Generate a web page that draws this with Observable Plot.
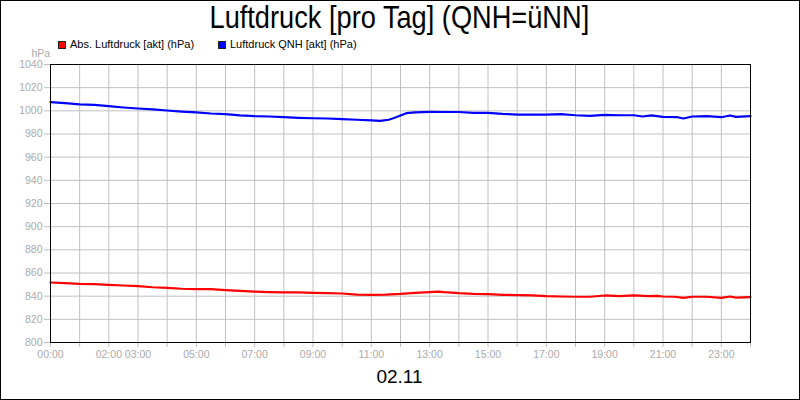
<!DOCTYPE html>
<html>
<head>
<meta charset="utf-8">
<script src="https://cdn.jsdelivr.net/npm/d3@7"></script>
<script src="https://cdn.jsdelivr.net/npm/@observablehq/plot@0.6"></script>
<style>
  html, body { margin: 0; padding: 0; background: #fff; }
  #wrap { position: relative; width: 800px; height: 400px; overflow: hidden; background: #fff; font-family: "Liberation Sans", Arial, sans-serif; }
  #border { position: absolute; left: 0; top: 0; width: 800px; height: 400px; box-sizing: border-box; border: 1px solid #000; pointer-events: none; }
  #title { position: absolute; left: 0; top: 1px; width: 798px; text-align: center; font-size: 32px; line-height: 32px; color: #000; white-space: nowrap; }
  #title span { display: inline-block; transform: scaleX(0.85); transform-origin: center; }
  #caption { position: absolute; left: 0; top: 367px; width: 799px; text-align: center; font-size: 19px; line-height: 19px; color: #000; }
  .leg { position: absolute; top: 39px; font-size: 11px; line-height: 11px; color: #000; white-space: nowrap; }
  .sw { position: absolute; top: 41px; width: 6px; height: 6px; border: 1px solid #222; }
  #chart { position: absolute; left: 0; top: 0; }
</style>
</head>
<body>
<div id="wrap">
  <div id="chart"></div>
  <div id="title"><span>Luftdruck [pro Tag] (QNH=üNN]</span></div>
  <div class="sw" style="left:58px;background:#ff0000"></div>
  <div class="leg" style="left:70px">Abs. Luftdruck [akt] (hPa)</div>
  <div class="sw" style="left:218px;background:#0000ff"></div>
  <div class="leg" style="left:230px">Luftdruck QNH [akt] (hPa)</div>
  <div id="caption">02.11</div>
  <div id="border"></div>
</div>
<script>
// ---- data ----
const seriesNames = ["Abs. Luftdruck [akt] (hPa)", "Luftdruck QNH [akt] (hPa)"];

const absHours = [0,0.5,1,1.5,2,2.5,3,3.5,4,4.5,5,5.5,6,6.5,7,7.5,8,8.5,9,9.5,10,10.5,11,11.5,12,12.5,13,13.3,13.5,14,14.5,15,15.5,16,16.5,17,17.5,18,18.5,19,19.5,20,20.5,20.8,21,21.4,21.7,22,22.5,23,23.3,23.5,24];
const absValues = [851.8,851.2,850.6,850.4,849.8,849.2,848.6,847.7,847.2,846.4,846.0,846.0,845.2,844.6,844.0,843.5,843.2,843.2,842.9,842.6,842.3,841.4,841.2,841.4,842.0,842.9,843.5,844.0,843.5,842.6,842.0,841.7,841.2,840.9,840.6,840.0,839.7,839.5,839.5,840.6,840.0,840.6,840.0,840.3,839.7,839.5,838.6,839.5,839.5,838.6,839.7,838.8,839.2];

const qnhHours = [0,0.5,1,1.5,2,2.5,3,3.5,4,4.5,5,5.5,6,6.5,7,7.5,8,8.5,9,9.5,10,10.5,11,11.3,11.6,11.8,12,12.2,12.5,13,13.5,14,14.5,15,15.5,16,16.5,17,17.5,18,18.5,19,19.5,20,20.3,20.6,21,21.5,21.7,22,22.5,23,23.3,23.5,24];
const qnhValues = [1007.5,1006.6,1005.5,1005.2,1004.0,1002.9,1002.0,1001.2,1000.3,999.4,998.6,997.7,997.1,996.0,995.4,995.1,994.5,994.0,993.6,993.4,992.8,992.3,991.7,991.4,992.3,994.0,996.0,998.0,998.6,999.1,999.0,999.0,998.3,998.3,997.4,996.8,996.8,996.8,997.1,996.2,995.7,996.5,996.2,996.2,995.1,996.0,994.8,994.5,993.4,995.1,995.4,994.5,996.0,994.8,995.4];

const xTickHours = d3.range(0, 25);
const xLabelHours = [0,2,3,5,7,9,11,13,15,17,19,21,23];
const yTicks = d3.range(800, 1041, 20);
const yDomain = [800, 1040];

// ---- build tables ----
const absData = absHours.map((h, i) => ({h, v: absValues[i], s: seriesNames[0]}));
const qnhData = qnhHours.map((h, i) => ({h, v: qnhValues[i], s: seriesNames[1]}));

const fmtHour = h => String(h).padStart(2, "0") + ":00";
const labelGray = "#aaaaaa";
const tickGray = "#bdbdbd";
const gridGray = "#c0c0c0";

const chart = Plot.plot({
  width: 800,
  height: 400,
  marginLeft: 50,
  marginRight: 50,
  marginTop: 64,
  marginBottom: 58,
  style: { fontFamily: "'Liberation Sans', Arial, sans-serif", fontSize: "10.5px", background: "transparent", overflow: "visible" },
  x: { domain: [0, 24] },
  y: { domain: yDomain },
  marks: [
    Plot.gridX(xTickHours, { stroke: gridGray, strokeOpacity: 1 }),
    Plot.gridY(yTicks, { stroke: gridGray, strokeOpacity: 1 }),
    Plot.axisX(xTickHours, {
      tickSize: 5, tickPadding: 3, stroke: tickGray, fill: labelGray, label: null,
      tickFormat: h => xLabelHours.includes(h) ? fmtHour(h) : ""
    }),
    Plot.axisY(yTicks, {
      tickSize: 6, tickPadding: 2, stroke: tickGray, fill: labelGray, label: null,
      tickFormat: d => String(d)
    }),
    Plot.line(absData, { x: "h", y: "v", stroke: "#ff0000", strokeWidth: 2.2 }),
    Plot.line(qnhData, { x: "h", y: "v", stroke: "#0000ff", strokeWidth: 2.2 }),
    Plot.frame({ stroke: "#000" }),
    Plot.text(["hPa"], { text: d => d, frameAnchor: "top-left", dx: -19, dy: -15, textAnchor: "start", fill: labelGray })
  ]
});
document.getElementById("chart").appendChild(chart);
</script>
</body>
</html>
